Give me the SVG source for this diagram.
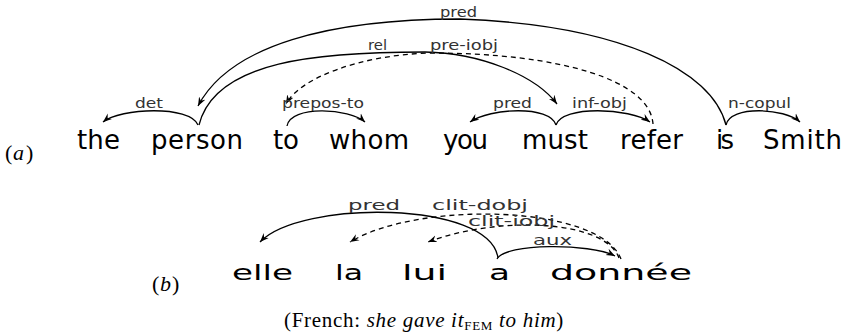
<svg xmlns="http://www.w3.org/2000/svg" width="846" height="335" viewBox="0 0 846 335">
<defs>
<marker id="ah" markerWidth="10" markerHeight="8" refX="9" refY="4" orient="auto" markerUnits="userSpaceOnUse">
<path d="M0,0.5 L9,4 L0,7.5 L3,4 z" fill="#000"/>
</marker>
<style>
.w { font-family: "DejaVu Sans", sans-serif; font-size: 26px; fill: #000; }
.wb { font-family: "DejaVu Sans", sans-serif; font-size: 21px; fill: #000; }
.lb { font-family: "DejaVu Sans", sans-serif; font-size: 14px; fill: #333; }
.arc { fill: none; stroke: #000; stroke-width: 1.3; marker-end: url(#ah); }
.dash { stroke-dasharray: 5 4; }
.ser { font-family: "Liberation Serif", "Times New Roman", serif; font-size: 21px; fill: #000; }
.tag { font-family: "Liberation Serif", "Times New Roman", serif; font-size: 22px; fill: #000; }
</style>
</defs>
<rect width="846" height="335" fill="#fff"/>

<g id="label-a"><text class="tag" y="160"><tspan x="5">(</tspan><tspan x="13" font-style="italic">a</tspan><tspan x="26">)</tspan></text></g>
<g id="label-b"><text class="tag" y="291"><tspan x="152">(</tspan><tspan x="160" font-style="italic">b</tspan><tspan x="172">)</tspan></text></g>

<g id="a-the"><text class="w" x="77" y="149" textLength="43">the</text></g>
<g id="a-person"><text class="w" x="151" y="149" textLength="92">person</text></g>
<g id="a-to"><text class="w" x="273" y="149" textLength="26">to</text></g>
<g id="a-whom"><text class="w" x="329" y="149" textLength="80">whom</text></g>
<g id="a-you"><text class="w" x="443" y="149" textLength="45">you</text></g>
<g id="a-must"><text class="w" x="522" y="149" textLength="66">must</text></g>
<g id="a-refer"><text class="w" x="620" y="149" textLength="63">refer</text></g>
<g id="a-is"><text class="w" x="716" y="149" textLength="18">is</text></g>
<g id="a-Smith"><text class="w" x="763" y="149" textLength="79">Smith</text></g>

<g id="b-elle"><text class="wb" x="232" y="280" textLength="61" lengthAdjust="spacingAndGlyphs">elle</text></g>
<g id="b-la"><text class="wb" x="335" y="280" textLength="28" lengthAdjust="spacingAndGlyphs">la</text></g>
<g id="b-lui"><text class="wb" x="402" y="280" textLength="45" lengthAdjust="spacingAndGlyphs">lui</text></g>
<g id="b-a"><text class="wb" x="489" y="280" textLength="21" lengthAdjust="spacingAndGlyphs">a</text></g>
<g id="b-donnee"><text class="wb" x="550" y="280" textLength="142" lengthAdjust="spacingAndGlyphs">donnée</text></g>

<g id="connectors">
<path class="arc" d="M726,125 C712,70 620,25 460,19 C330,19 230,45 198,106"/>
<text class="lb" x="440" y="17" textLength="37" lengthAdjust="spacingAndGlyphs">pred</text>
<path class="arc" d="M199,125 C215,60 320,52 425,52 C480,53 535,75 557,104"/>
<text class="lb" x="368" y="50" textLength="19" lengthAdjust="spacingAndGlyphs">rel</text>
<path class="arc dash" d="M653,124 C650,80 560,53 430,53 C360,55 300,78 286,104"/>
<text class="lb" x="430" y="50" textLength="68" lengthAdjust="spacingAndGlyphs">pre-iobj</text>
<path class="arc" d="M198,125 C190,105 120,108 103,122"/>
<text class="lb" x="135" y="108" textLength="28" lengthAdjust="spacingAndGlyphs">det</text>
<path class="arc" d="M287,126 C290,105 350,108 365,122"/>
<text class="lb" x="282" y="108" textLength="82" lengthAdjust="spacingAndGlyphs">prepos-to</text>
<path class="arc" d="M556,125 C550,105 490,108 470,122"/>
<text class="lb" x="493" y="108" textLength="39" lengthAdjust="spacingAndGlyphs">pred</text>
<path class="arc" d="M556,125 C562,105 630,108 650,122"/>
<text class="lb" x="572" y="108" textLength="55" lengthAdjust="spacingAndGlyphs">inf-obj</text>
<path class="arc" d="M726,125 C730,105 785,108 800,122"/>
<text class="lb" x="728" y="108" textLength="63" lengthAdjust="spacingAndGlyphs">n-copul</text>

<path class="arc" d="M498,258 C490,200 300,200 260,242"/>
<text class="lb" x="348" y="210" textLength="52" lengthAdjust="spacingAndGlyphs">pred</text>
<path class="arc dash" d="M621,259 C600,205 420,200 350,242"/>
<text class="lb" x="432" y="210" textLength="96" lengthAdjust="spacingAndGlyphs">clit-dobj</text>
<path class="arc dash" d="M619,258 C605,220 500,215 428,242"/>
<text class="lb" x="468" y="226" textLength="87" lengthAdjust="spacingAndGlyphs">clit-iobj</text>
<path class="arc" d="M497,259 C505,243 590,243 615,256"/>
<text class="lb" x="533" y="245" textLength="39" lengthAdjust="spacingAndGlyphs">aux</text>
</g>

<g id="caption"><text class="ser" x="424" y="327" text-anchor="middle" letter-spacing="0.7">(French: <tspan font-style="italic">she gave it</tspan><tspan font-size="13" dy="3">FEM</tspan><tspan font-style="italic" dy="-3"> to him</tspan>)</text></g>
</svg>
